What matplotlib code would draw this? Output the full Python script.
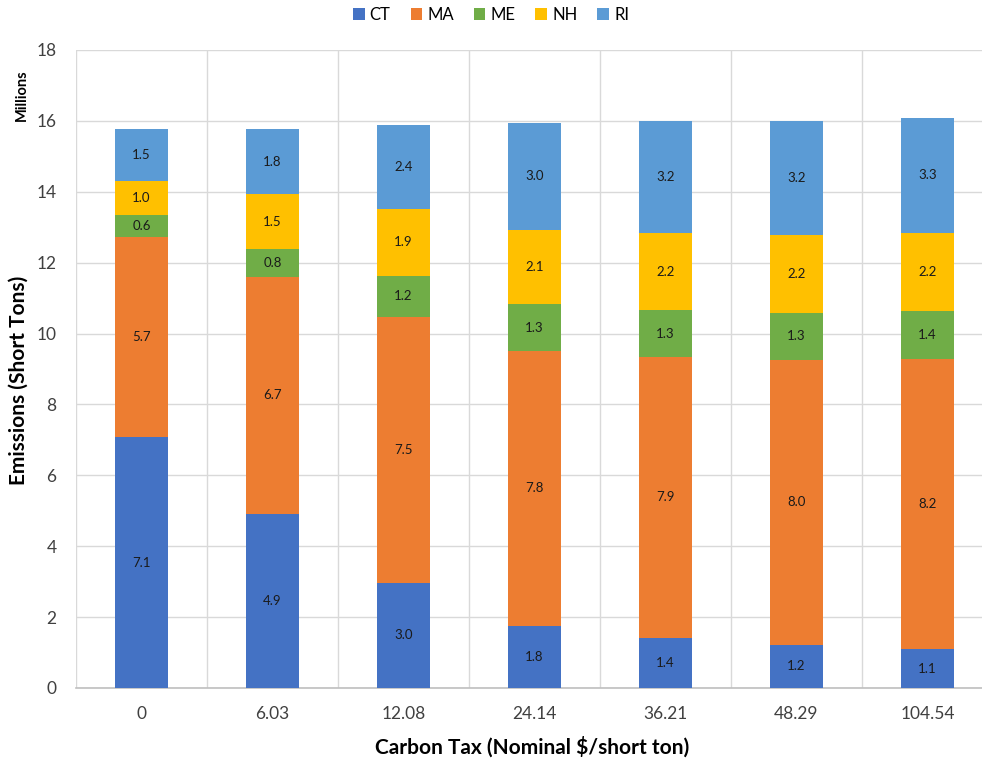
import matplotlib
matplotlib.use("Agg")
from matplotlib import pyplot as plt
import numpy as np

plt.rcParams['font.family'] = ['Lato', 'DejaVu Sans']

# carbon tax levels ($/short ton) and emissions by state, millions of short tons
taxes = ["0", "6.03", "12.08", "24.14", "36.21", "48.29", "104.54"]
states = ["CT", "MA", "ME", "NH", "RI"]
ct = [7.08, 4.91, 2.97, 1.75, 1.41, 1.22, 1.10]
ma = [5.65, 6.69, 7.50, 7.77, 7.93, 8.04, 8.17]
me = [0.62, 0.79, 1.16, 1.30, 1.32, 1.33, 1.37]
nh = [0.96, 1.54, 1.89, 2.10, 2.17, 2.20, 2.19]
ri = [1.46, 1.84, 2.36, 3.03, 3.16, 3.22, 3.26]
colors = ["#4472C4", "#ED7D31", "#70AD47", "#FFC000", "#5B9BD5"]

fig = plt.figure(figsize=(9.82, 7.61), dpi=100)
ax = fig.add_axes([76 / 982, 73 / 761, 917 / 982, 638 / 761])

x = np.arange(len(taxes))
bottom = np.zeros(len(taxes))
for name, vals, col in zip(states, [ct, ma, me, nh, ri], colors):
    vals = np.array(vals)
    ax.bar(x, vals, 0.4, bottom=bottom, color=col, label=name, zorder=3)
    for xi, b, v in zip(x, bottom, vals):
        ax.text(xi, b + v / 2, f"{v:.1f}", ha="center", va="center",
                fontsize=9.5, color="#1a1a1a", zorder=4)
    bottom += vals

ax.set_xlim(-0.5, 6.5)
ax.set_ylim(0, 18)
ax.set_yticks(np.arange(0, 19, 2))
ax.set_xticks(x)
ax.set_xticklabels(taxes)
ax.set_xticks(np.arange(-0.5, 6.0, 1.0), minor=True)
ax.tick_params(axis="both", which="both", length=0, labelsize=12.5, colors="#404040")
ax.tick_params(axis="x", pad=13)
ax.tick_params(axis="y", pad=14)
ax.grid(axis="y", color="#d9d9d9", linewidth=1, zorder=0)
ax.grid(axis="x", which="minor", color="#d9d9d9", linewidth=1, zorder=0)
ax.grid(axis="x", which="major", visible=False)
for s in ["top", "right", "left"]:
    ax.spines[s].set_visible(False)
ax.spines["bottom"].set_color("#bfbfbf")
ax.spines["bottom"].set_linewidth(1.2)

ax.set_xlabel("Carbon Tax (Nominal $/short ton)", fontsize=15, fontweight="bold")
ax.xaxis.set_label_coords((532 - 76) / 917, -0.076)
fig.text(19 / 982, 1 - 380 / 761, "Emissions (Short Tons)", rotation=90,
         fontsize=15, fontweight="bold", ha="center", va="center")
fig.text(22 / 982, 1 - 95 / 761, "Millions", rotation=90, fontsize=10.5,
         fontweight="bold", ha="center", va="center")

fig.legend(loc="center", bbox_to_anchor=(491 / 982, 1 - 15 / 761), ncol=5,
           frameon=False, fontsize=12, handlelength=0.7, handleheight=0.7,
           handletextpad=0.3, columnspacing=1.2)

fig.savefig("out.png", dpi=100)
